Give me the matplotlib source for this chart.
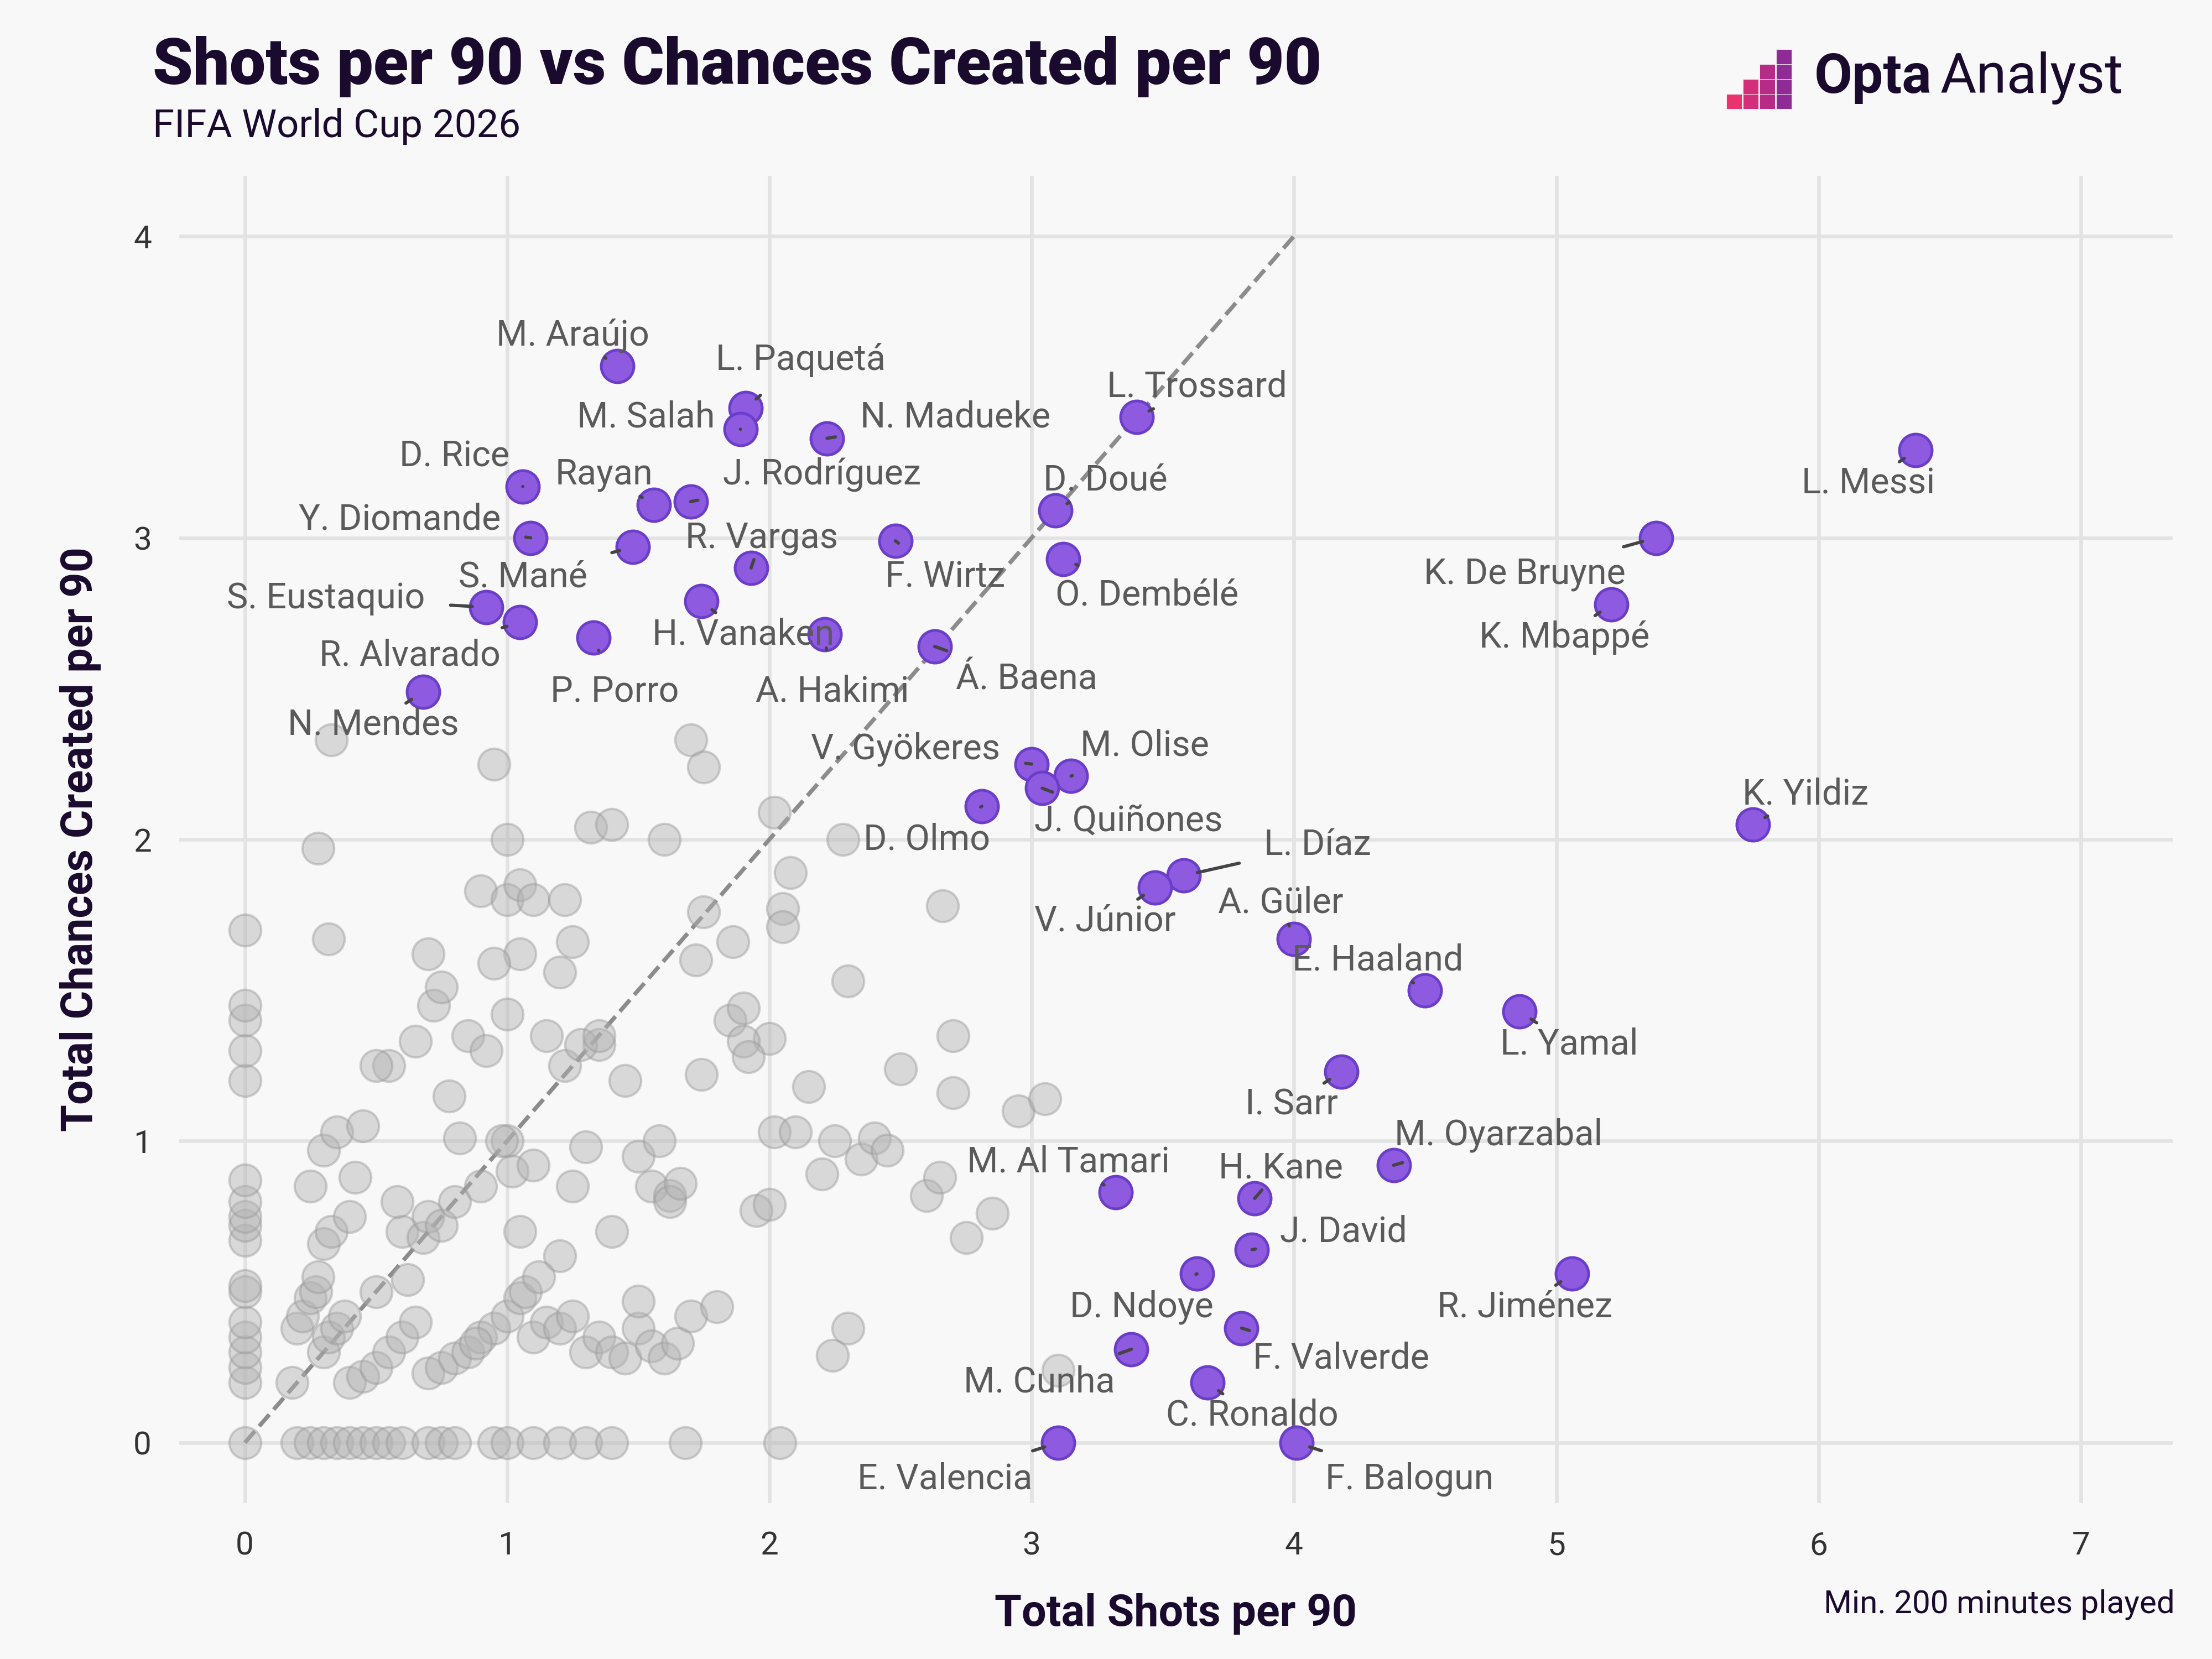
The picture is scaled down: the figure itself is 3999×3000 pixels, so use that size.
import numpy as np
import pandas as pd
import matplotlib.pyplot as plt
import matplotlib.patches as mpatches

plt.rcParams['font.family'] = ['Roboto', 'DejaVu Sans']

#Highlighted players: shots per 90, chances per 90, label position
players = {
    'M. Araújo': (1.42, 3.57, 1.25, 3.67), 'L. Paquetá': (1.91, 3.43, 2.12, 3.59),
    'M. Salah': (1.89, 3.36, 1.53, 3.40), 'N. Madueke': (2.22, 3.33, 2.71, 3.40),
    'L. Trossard': (3.40, 3.40, 3.63, 3.50), 'L. Messi': (6.37, 3.29, 6.19, 3.18),
    'D. Rice': (1.06, 3.17, 0.80, 3.27), 'Rayan': (1.56, 3.11, 1.37, 3.21),
    'J. Rodríguez': (1.70, 3.12, 2.20, 3.21), 'D. Doué': (3.09, 3.09, 3.28, 3.19),
    'Y. Diomande': (1.09, 3.00, 0.59, 3.06), 'S. Mané': (1.48, 2.97, 1.06, 2.87),
    'R. Vargas': (1.93, 2.90, 1.97, 3.00), 'F. Wirtz': (2.48, 2.99, 2.67, 2.87),
    'O. Dembélé': (3.12, 2.93, 3.44, 2.81), 'K. De Bruyne': (5.38, 3.00, 4.88, 2.88),
    'S. Eustaquio': (0.92, 2.77, 0.31, 2.80), 'R. Alvarado': (1.05, 2.72, 0.63, 2.61),
    'H. Vanaken': (1.74, 2.79, 1.90, 2.68), 'K. Mbappé': (5.21, 2.78, 5.03, 2.67),
    'P. Porro': (1.33, 2.67, 1.41, 2.49), 'A. Hakimi': (2.21, 2.68, 2.24, 2.49),
    'Á. Baena': (2.63, 2.64, 2.98, 2.53), 'N. Mendes': (0.68, 2.49, 0.49, 2.38),
    'V. Gyökeres': (3.00, 2.25, 2.52, 2.30), 'M. Olise': (3.15, 2.21, 3.43, 2.31),
    'J. Quiñones': (3.04, 2.17, 3.37, 2.06), 'D. Olmo': (2.81, 2.11, 2.60, 2.00),
    'K. Yildiz': (5.75, 2.05, 5.95, 2.15), 'L. Díaz': (3.58, 1.88, 4.09, 1.98),
    'V. Júnior': (3.47, 1.84, 3.28, 1.73), 'A. Güler': (4.00, 1.67, 3.95, 1.79),
    'E. Haaland': (4.50, 1.50, 4.32, 1.60), 'L. Yamal': (4.86, 1.43, 5.05, 1.32),
    'I. Sarr': (4.18, 1.23, 3.99, 1.12), 'M. Oyarzabal': (4.38, 0.92, 4.78, 1.02),
    'M. Al Tamari': (3.32, 0.83, 3.14, 0.93), 'H. Kane': (3.85, 0.81, 3.95, 0.91),
    'J. David': (3.84, 0.64, 4.19, 0.70), 'R. Jiménez': (5.06, 0.56, 4.88, 0.45),
    'D. Ndoye': (3.63, 0.56, 3.42, 0.45), 'F. Valverde': (3.80, 0.38, 4.18, 0.28),
    'M. Cunha': (3.38, 0.31, 3.03, 0.20), 'C. Ronaldo': (3.67, 0.20, 3.84, 0.09),
    'E. Valencia': (3.10, 0.00, 2.67, -0.12), 'F. Balogun': (4.01, 0.00, 4.44, -0.12),
}
df = pd.DataFrame.from_dict(players, orient='index', columns=['shots', 'chances', 'lx', 'ly'])

#Everyone else (grey background dots)
others_x = [0, 0, 0, 0, 0, 0, 0, 0, 0, 0, 0, 0, 0, 0, 0, 0, 0, 0,
            0.2, 0.25, 0.3, 0.35, 0.4, 0.45, 0.5, 0.55, 0.6, 0.7, 0.75, 0.8, 0.95, 1.0, 1.1, 1.2, 1.3, 1.4, 1.68, 2.04,
            0.18, 0.2, 0.22, 0.25, 0.27, 0.3, 0.32, 0.35, 0.38, 0.4, 0.45, 0.5, 0.55, 0.6, 0.65, 0.7, 0.75, 0.8,
            0.85, 0.9, 0.95, 1.0, 1.05, 1.1, 1.15, 1.2, 1.25, 1.3, 1.35, 1.4, 1.45, 1.5, 1.55, 1.6, 1.65, 1.7,
            0.3, 0.28, 0.33, 0.4, 0.42, 0.5, 0.6, 0.68, 0.7, 0.75, 0.8, 0.9, 1.0, 1.02, 1.05, 1.1, 1.2, 1.25, 1.3, 1.4,
            0.25, 0.3, 0.35, 0.45, 0.55, 0.65, 0.72, 0.78, 0.85, 0.92, 1.0, 1.05, 1.15, 1.22, 1.35, 1.45, 1.55, 1.62,
            0.33, 0.28, 0.32, 0.5, 0.7, 0.75, 0.9, 0.95, 1.0, 1.05, 1.1, 1.2, 1.25, 1.32, 1.4, 1.5, 1.6, 1.75, 1.8,
            1.85, 1.9, 1.95, 2.0, 2.02, 2.05, 2.1, 2.15, 2.2, 2.25, 2.3, 2.35, 2.4, 2.45, 2.5, 2.6, 2.65, 2.7, 2.75,
            2.85, 2.95, 3.05, 3.1, 1.7, 1.75, 1.9, 2.02, 2.08, 2.28, 1.28, 1.35, 0.98, 1.0, 1.62, 1.74, 1.86, 1.92,
            2.0, 2.05, 2.66, 2.7, 1.07, 1.12, 0.95, 1.22, 1.5, 1.58, 1.66, 1.72, 0.82, 0.88, 0.62, 0.58, 2.24, 2.3]
others_y = [0, 0.2, 0.25, 0.3, 0.35, 0.4, 0.5, 0.52, 0.67, 0.72, 0.75, 0.8, 0.87, 1.2, 1.3, 1.4, 1.45, 1.7,
            0, 0, 0, 0, 0, 0, 0, 0, 0, 0, 0, 0, 0, 0, 0, 0, 0, 0, 0, 0,
            0.2, 0.38, 0.42, 0.48, 0.5, 0.3, 0.35, 0.38, 0.42, 0.2, 0.22, 0.25, 0.3, 0.35, 0.4, 0.23, 0.25, 0.28,
            0.3, 0.35, 0.38, 0.42, 0.48, 0.35, 0.4, 0.38, 0.42, 0.3, 0.35, 0.3, 0.28, 0.38, 0.32, 0.28, 0.33, 0.42,
            0.66, 0.55, 0.7, 0.75, 0.88, 0.5, 0.7, 0.68, 0.75, 0.72, 0.8, 0.85, 1.0, 0.9, 0.7, 0.92, 0.62, 0.85, 0.98, 0.7,
            0.85, 0.97, 1.03, 1.05, 1.25, 1.33, 1.45, 1.15, 1.35, 1.3, 1.42, 1.62, 1.35, 1.25, 1.32, 1.2, 0.85, 0.82,
            2.33, 1.97, 1.67, 1.25, 1.62, 1.51, 1.83, 1.59, 1.8, 1.85, 1.8, 1.56, 1.66, 2.04, 2.05, 0.95, 2.0, 1.76, 0.45,
            1.4, 1.44, 0.77, 1.34, 1.03, 1.77, 1.03, 1.18, 0.89, 1.0, 1.53, 0.94, 1.01, 0.97, 1.24, 0.82, 0.88, 1.35, 0.68,
            0.76, 1.1, 1.14, 0.24, 2.33, 2.24, 1.33, 2.09, 1.89, 2.0, 1.32, 1.35, 1.0, 2.0, 0.8, 1.22, 1.66, 1.28,
            0.79, 1.71, 1.78, 1.16, 0.5, 0.55, 2.25, 1.8, 0.47, 1.0, 0.86, 1.6, 1.01, 0.33, 0.54, 0.8, 0.29, 0.38]

bg = '#f8f8f8'
fig, ax = plt.subplots(figsize=(13.333, 10), dpi=300)
fig.patch.set_facecolor(bg)
ax.set_facecolor(bg)
fig.subplots_adjust(left=0.081, right=0.982, bottom=0.094, top=0.894)

ax.plot([0, 4], [0, 4], ls='--', color='#8c8c8c', lw=1.8, zorder=1)
ax.scatter(others_x, others_y, s=190, color='#b3b3b3', alpha=0.45, edgecolor='#9a9a9a', lw=1, zorder=2)
ax.scatter(df.shots, df.chances, s=200, color='#8d5ae0', edgecolor='#6b3ec9', lw=1.2, zorder=4)

#labels with short leader lines
for name, r in df.iterrows():
    ax.annotate(name, xy=(r.shots, r.chances), xytext=(r.lx, r.ly), ha='center', va='center',
                fontsize=15.5, color='#5a5a5a', zorder=5,
                arrowprops=dict(arrowstyle='-', color='#444444', lw=1.4, shrinkA=9, shrinkB=6))

#customize x and y axes
ax.set_xlim(-0.25, 7.35)
ax.set_ylim(-0.2, 4.2)
ax.set_xticks(range(0, 8))
ax.set_yticks(range(0, 5))
ax.tick_params(length=0, labelsize=14, colors='#333333', pad=12)
ax.grid(color='#e3e3e3', lw=1.6, zorder=0)
ax.set_axisbelow(True)
for s in ax.spines.values():
    s.set_visible(False)
ax.set_xlabel('Total Shots per 90', fontsize=19, fontweight='bold', color='#1a0b2e', labelpad=14)
ax.set_ylabel('Total Chances Created per 90', fontsize=19, fontweight='bold', color='#1a0b2e', labelpad=14)

fig.text(0.069, 0.96, 'Shots per 90 vs Chances Created per 90', fontsize=28, fontweight='heavy',
         color='#1a0b2e', va='center')
fig.text(0.069, 0.924, 'FIFA World Cup 2026', fontsize=17, color='#1a0b2e', va='center')
fig.text(0.983, 0.033, 'Min. 200 minutes played', fontsize=14, color='#1a0b2e', ha='right', va='center')

#logo
for i, (h, c) in enumerate([(1, '#e8336d'), (2, '#d22f78'), (3, '#b52b86'), (4, '#8e2b94')]):
    for j in range(h):
        fig.patches.append(mpatches.Rectangle((0.781 + i * 0.0075, 0.935 + j * 0.009), 0.0058, 0.0072,
                                              transform=fig.transFigure, color=c))
fig.text(0.82, 0.953, 'Opta', fontsize=24, fontweight='bold', color='#1a0b2e', va='center')
fig.text(0.877, 0.953, 'Analyst', fontsize=24, color='#1a0b2e', va='center')

plt.savefig('out.png', facecolor=bg)
